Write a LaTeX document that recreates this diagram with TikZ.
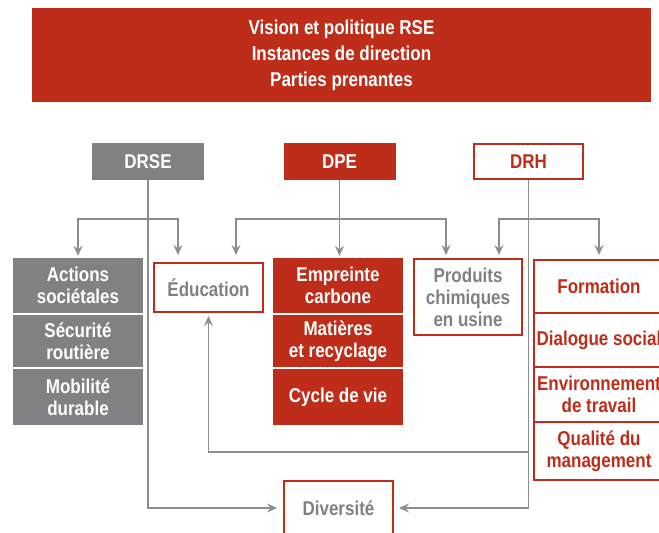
\documentclass[tikz,border=0pt]{standalone}
\usepackage{fontspec}
\setmainfont{Liberation Sans}[FakeStretch=0.85]
\usetikzlibrary{arrows.meta}

\definecolor{rsered}{RGB}{190,45,26}
\definecolor{rsegray}{RGB}{128,129,133}
\definecolor{linkgray}{RGB}{140,141,145}

\tikzset{
  box/.style={inner sep=0pt, align=center, font=\fontsize{20}{22}\selectfont\bfseries},
  grayblock/.style={box, fill=rsegray, text=white},
  redblock/.style={box, fill=rsered, text=white},
  redframe/.style={box, draw=rsered, line width=2pt, fill=white, text=rsered},
  grayframe/.style={redframe, text=rsegray},
  link/.style={draw=linkgray, line width=1.4pt},
  arr/.style={link, -{Stealth[length=10pt, width=9pt, inset=3.5pt]}, shorten >=2pt},
}

\begin{document}
\begin{tikzpicture}[x=1pt, y=-1pt]
  \useasboundingbox (0,0) rectangle (659,533);
  \clip (0,0) rectangle (659,533);

  % Banner
  \node[redblock, minimum width=619, minimum height=94,
        font=\fontsize{20}{26}\selectfont\bfseries] (vision) at (341.5,55)
    {Vision et politique RSE\\Instances de direction\\Parties prenantes};

  % Directions
  \node[grayblock, minimum width=112, minimum height=37] (drse) at (148,161.5) {DRSE};
  \node[redblock, minimum width=112, minimum height=37] (dpe) at (339.5,161.5) {DPE};
  \node[redframe, minimum width=109, minimum height=35] (drh) at (528.5,161.5) {DRH};

  % DRSE column
  \node[grayblock, minimum width=130, minimum height=55] (actions) at (78,285.5) {Actions\\sociétales};
  \node[grayblock, minimum width=130, minimum height=52] (securite) at (78,341) {Sécurité\\routière};
  \node[grayblock, minimum width=130, minimum height=56] (mobilite) at (78,397) {Mobilité\\durable};

  % DPE column
  \node[redblock, minimum width=130, minimum height=55] (empreinte) at (338,285.5) {Empreinte\\carbone};
  \node[redblock, minimum width=130, minimum height=52] (matieres) at (338,341) {Matières\\et recyclage};
  \node[redblock, minimum width=130, minimum height=56] (cycle) at (338,397) {Cycle de vie};

  % Shared themes
  \node[grayframe, minimum width=109, minimum height=49] (edu) at (208.5,287.5) {Éducation};
  \node[grayframe, minimum width=108, minimum height=76] (prod) at (468,297) {Produits\\chimiques\\en usine};
  \node[grayframe, minimum width=109, minimum height=54] (divers) at (338.5,508) {Diversité};

  % DRH column
  \node[redframe, minimum width=130, minimum height=53] (formation) at (599,286.5) {Formation};
  \node[redframe, minimum width=130, minimum height=54] (dialogue) at (599,340) {Dialogue social};
  \node[redframe, minimum width=130, minimum height=55] (environ) at (599,394.5) {Environnement\\de travail};
  \node[redframe, minimum width=130, minimum height=58] (qualite) at (599,451) {Qualité du\\management};

  % Branch points
  \coordinate (drseknot) at (drse.south |- 0,219);
  \coordinate (dpeknot) at (dpe.south |- 0,219);
  \coordinate (drhknot) at (drh.south |- 0,219);
  \coordinate (drhback) at (drh.south |- 0,452);

  % DRSE links
  \draw[arr] (drseknot) -| (actions.north);
  \draw[arr, shorten >=7pt] (drseknot) -| ([xshift=25pt]edu.north west);
  \draw[arr, shorten >=6pt] (drse.south) |- (divers.west);

  % DPE links
  \draw[arr] (dpe.south) -- (dpe.south |- empreinte.north);
  \draw[arr, shorten >=7pt] (dpeknot) -| ([xshift=-28pt]edu.north east);
  \draw[arr, shorten >=3pt] (dpeknot) -| ([xshift=33pt]prod.north west);

  % DRH links
  \draw[arr, shorten >=3pt] (drhknot) -| ([xshift=-24pt]prod.north east);
  \draw[arr, shorten >=4pt] (drhknot) -| (formation.north);
  \draw[arr, shorten >=5pt] (drh.south) |- (divers.east);
  \draw[arr, shorten >=3pt] (drhback) -| (edu.south);
\end{tikzpicture}
\end{document}
